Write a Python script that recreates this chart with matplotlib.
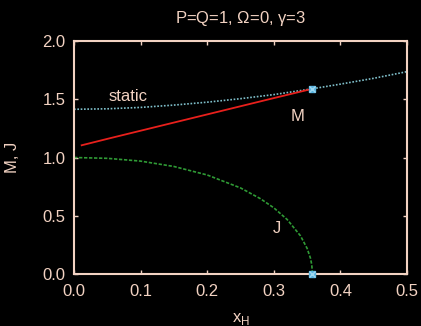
import numpy as np
import matplotlib
matplotlib.use("Agg")
import matplotlib.pyplot as plt

# data
x_static = [0.0, 0.05, 0.1, 0.15, 0.2, 0.25, 0.3, 0.358, 0.4, 0.45, 0.5]
y_static = [1.414, 1.418, 1.43, 1.45, 1.475, 1.505, 1.54, 1.59, 1.63, 1.68, 1.737]

x_M = [0.0115, 0.05, 0.1, 0.15, 0.2, 0.25, 0.3, 0.358]
y_M = [1.105, 1.16, 1.23, 1.30, 1.37, 1.44, 1.51, 1.59]

x_J = [0.0, 0.05, 0.1, 0.15, 0.2, 0.25, 0.28, 0.3, 0.32, 0.34, 0.35, 0.355, 0.357, 0.358]
y_J = [1.0, 0.993, 0.969, 0.923, 0.85, 0.739, 0.646, 0.568, 0.468, 0.328, 0.22, 0.136, 0.078, 0.0]

x_crit = [0.358, 0.358]
y_crit = [1.59, 0.0]

fg = '#f2d2c2'
plt.rcParams['font.family'] = ['Liberation Sans', 'DejaVu Sans']

fig = plt.figure(figsize=(4.21, 3.26), dpi=100, facecolor='black')
ax = fig.add_axes([0.1758, 0.1595, 0.791, 0.7147], facecolor='black')

ax.plot(x_static, y_static, color='#7fbfca', lw=1.2, linestyle=(0, (1, 1)))
ax.plot(x_M, y_M, color='#e8201c', lw=1.3)
ax.plot(x_J, y_J, color='#2f9a35', lw=1.2, linestyle=(0, (2, 1)))
ax.plot(x_crit, y_crit, linestyle='none', marker='s', ms=4, color='#5ab4e0', clip_on=False, zorder=5)
ax.plot(x_crit, y_crit, linestyle='none', marker='x', ms=4, mew=1, color='#9fd8f0', clip_on=False, zorder=6)

ax.text(0.081, 1.52, 'static', color=fg, fontsize=12, ha='center', va='center')
ax.text(0.335, 1.35, 'M', color=fg, fontsize=12, ha='center', va='center')
ax.text(0.305, 0.39, 'J', color=fg, fontsize=12, ha='center', va='center')

ax.set_xlim(0, 0.5)
ax.set_ylim(0, 2)
ax.set_xticks([0, 0.1, 0.2, 0.3, 0.4, 0.5])
ax.set_yticks([0, 0.5, 1.0, 1.5, 2.0])
ax.set_xticklabels(['0.0', '0.1', '0.2', '0.3', '0.4', '0.5'])
ax.set_yticklabels(['0.0', '0.5', '1.0', '1.5', '2.0'])
ax.tick_params(direction='in', length=3, width=1, colors=fg, labelsize=12,
               top=True, right=True)
ax.tick_params(axis='x', pad=7)
ax.tick_params(axis='y', pad=6)
for s in ax.spines.values():
    s.set_color(fg)
    s.set_linewidth(1.5)

ax.set_xlabel('x$_\\mathregular{H}$', color=fg, fontsize=12)
ax.xaxis.set_label_coords(0.5, -0.16)
ax.set_ylabel('M, J', color=fg, fontsize=12)
ax.yaxis.set_label_coords(-0.162, 0.5)
ax.set_title('P=Q=1, $\\mathregular{\\Omega}$=0, $\\mathregular{\\gamma}$=3', color=fg, fontsize=12, pad=13)

fig.savefig('out.png', dpi=100, facecolor='black')
